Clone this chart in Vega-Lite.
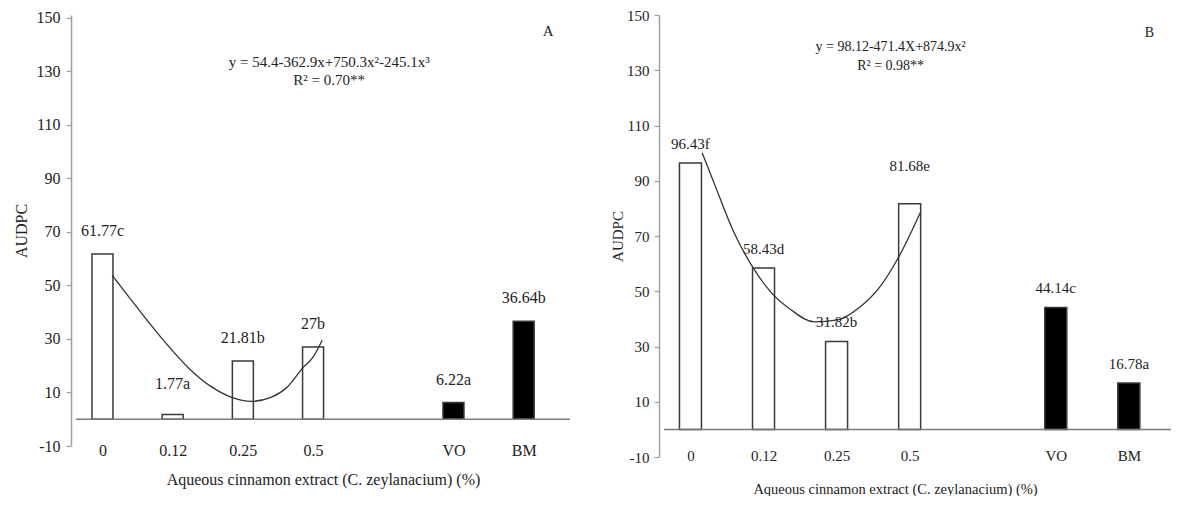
{
  "$schema": "https://vega.github.io/schema/vega-lite/v6.json",
  "padding": {"left": 13, "top": 8, "right": 0, "bottom": 0},
  "background": "white",
  "spacing": 35,
  "datasets": {
    "barsA": [
      {"idx": 0, "value": 61.77, "label": "61.77c", "kind": "extract"},
      {"idx": 1, "value": 1.77, "label": "1.77a", "kind": "extract"},
      {"idx": 2, "value": 21.81, "label": "21.81b", "kind": "extract"},
      {"idx": 3, "value": 27, "label": "27b", "kind": "extract"},
      {"idx": 5, "value": 6.22, "label": "6.22a", "kind": "control"},
      {"idx": 6, "value": 36.64, "label": "36.64b", "kind": "control"}
    ],
    "curveA": [
      {"idx": 0.14, "value": 53.8},
      {"idx": 0.49, "value": 41.9},
      {"idx": 0.87, "value": 29.5},
      {"idx": 1.23, "value": 19.1},
      {"idx": 1.56, "value": 12.0},
      {"idx": 1.84, "value": 8.2},
      {"idx": 2.12, "value": 6.7},
      {"idx": 2.40, "value": 8.2},
      {"idx": 2.63, "value": 12.0},
      {"idx": 2.86, "value": 19.4},
      {"idx": 3.00, "value": 23.2},
      {"idx": 3.13, "value": 29.5}
    ],
    "notesA": [
      {"idx": 3.23, "value": 133.5, "text": "y = 54.4-362.9x+750.3x²-245.1x³"},
      {"idx": 3.23, "value": 126.7, "text": "R² = 0.70**"},
      {"idx": 6.35, "value": 145, "text": "A"}
    ],
    "barsB": [
      {"idx": 0, "value": 96.43, "label": "96.43f", "kind": "extract"},
      {"idx": 1, "value": 58.43, "label": "58.43d", "kind": "extract"},
      {"idx": 2, "value": 31.82, "label": "31.82b", "kind": "extract"},
      {"idx": 3, "value": 81.68, "label": "81.68e", "kind": "extract"},
      {"idx": 5, "value": 44.14, "label": "44.14c", "kind": "control"},
      {"idx": 6, "value": 16.78, "label": "16.78a", "kind": "control"}
    ],
    "curveB": [
      {"idx": 0.16, "value": 100.1},
      {"idx": 0.36, "value": 86.7},
      {"idx": 0.58, "value": 72.2},
      {"idx": 0.85, "value": 58.8},
      {"idx": 1.11, "value": 49.4},
      {"idx": 1.38, "value": 43.2},
      {"idx": 1.70, "value": 38.9},
      {"idx": 2.01, "value": 39.6},
      {"idx": 2.32, "value": 44.3},
      {"idx": 2.59, "value": 51.5},
      {"idx": 2.85, "value": 62.4},
      {"idx": 3.15, "value": 78.7}
    ],
    "notesB": [
      {"idx": 2.74, "value": 138.4, "text": "y = 98.12-471.4X+874.9x²"},
      {"idx": 2.74, "value": 131.5, "text": "R² = 0.98**"},
      {"idx": 6.28, "value": 143.5, "text": "B"}
    ]
  },
  "hconcat": [
    {
      "width": 504,
      "height": 431,
      "encoding": {
        "x": {"field": "idx", "type": "quantitative", "scale": {"domain": [-0.377, 6.66], "nice": false, "zero": false},
          "axis": {"values": [0, 1, 2, 3, 5, 6], "labelExpr": "datum.value == 0 ? '0' : datum.value == 1 ? '0.12' : datum.value == 2 ? '0.25' : datum.value == 3 ? '0.5' : datum.value == 5 ? 'VO' : 'BM'",
            "domain": false, "ticks": false, "tickSize": 0, "labelBaseline": "middle", "labelPadding": 4, "labelFontSize": 16,
            "title": "Aqueous cinnamon extract (C. zeylanacium) (%)", "titleFontSize": 16, "titlePadding": 13}},
        "y": {"field": "value", "type": "quantitative", "scale": {"domain": [-10, 151.12], "nice": false, "zero": false},
          "axis": {"values": [-10, 10, 30, 50, 70, 90, 110, 130, 150], "labelExpr": "'' + datum.value", "tickSize": 5, "labelPadding": 6,
            "labelFontSize": 16, "title": "AUDPC", "titleFontSize": 16, "titlePadding": 7}}
      },
      "layer": [
        {
          "data": {"name": "barsA"},
          "mark": {"type": "bar", "size": 21, "stroke": "#3a3a3a", "strokeWidth": 1.5, "orient": "vertical"},
          "encoding": {
            "y2": {"datum": 0},
            "fill": {"field": "kind", "type": "nominal", "scale": {"domain": ["extract", "control"], "range": ["white", "black"]}, "legend": null}
          }
        },
        {
          "data": {"values": [{"idx": -0.377, "value": 0}, {"idx": 6.66, "value": 0}]},
          "mark": {"type": "line", "color": "#7a7a7a", "strokeWidth": 1.5}
        },
        {
          "data": {"name": "curveA"},
          "mark": {"type": "line", "interpolate": "monotone", "color": "#333333", "strokeWidth": 1.3}
        },
        {
          "data": {"name": "barsA"},
          "transform": [{"filter": "datum.label != '1.77a'"}],
          "mark": {"type": "text", "font": "Liberation Serif", "fontSize": 16, "baseline": "middle", "dy": -23, "color": "#222"},
          "encoding": {"text": {"field": "label"}}
        },
        {
          "data": {"name": "barsA"},
          "transform": [{"filter": "datum.label == '1.77a'"}],
          "mark": {"type": "text", "font": "Liberation Serif", "fontSize": 16, "baseline": "middle", "dy": -31, "color": "#222"},
          "encoding": {"text": {"field": "label"}}
        },
        {
          "data": {"name": "notesA"},
          "mark": {"type": "text", "font": "Liberation Serif", "fontSize": 15, "baseline": "middle", "color": "#222"},
          "encoding": {"text": {"field": "text"}}
        }
      ]
    },
    {
      "width": 517,
      "height": 442,
      "encoding": {
        "x": {"field": "idx", "type": "quantitative", "scale": {"domain": [-0.362, 6.577], "nice": false, "zero": false},
          "axis": {"values": [0, 1, 2, 3, 5, 6], "labelExpr": "datum.value == 0 ? '0' : datum.value == 1 ? '0.12' : datum.value == 2 ? '0.25' : datum.value == 3 ? '0.5' : datum.value == 5 ? 'VO' : 'BM'",
            "domain": false, "ticks": false, "tickSize": 0, "labelBaseline": "middle", "labelPadding": -2, "labelFontSize": 15,
            "title": "Aqueous cinnamon extract (C. zeylanacium) (%)", "titleFontSize": 14.5, "titlePadding": 19, "titleX": 236}},
        "y": {"field": "value", "type": "quantitative", "scale": {"domain": [-10, 150], "nice": false, "zero": false},
          "axis": {"values": [-10, 10, 30, 50, 70, 90, 110, 130, 150], "labelExpr": "'' + datum.value", "tickSize": 5, "labelPadding": 5,
            "labelFontSize": 15, "title": "AUDPC", "titleFontSize": 15, "titlePadding": 1}}
      },
      "layer": [
        {
          "data": {"name": "barsB"},
          "mark": {"type": "bar", "size": 22, "stroke": "#3a3a3a", "strokeWidth": 1.5, "orient": "vertical"},
          "encoding": {
            "y2": {"datum": 0},
            "fill": {"field": "kind", "type": "nominal", "scale": {"domain": ["extract", "control"], "range": ["white", "black"]}, "legend": null}
          }
        },
        {
          "data": {"values": [{"idx": -0.362, "value": 0}, {"idx": 6.577, "value": 0}]},
          "mark": {"type": "line", "color": "#7a7a7a", "strokeWidth": 1.5}
        },
        {
          "data": {"name": "curveB"},
          "mark": {"type": "line", "interpolate": "monotone", "color": "#333333", "strokeWidth": 1.3}
        },
        {
          "data": {"name": "barsB"},
          "transform": [{"filter": "datum.label != '81.68e'"}],
          "mark": {"type": "text", "font": "Liberation Serif", "fontSize": 15, "baseline": "middle", "dy": -19, "color": "#222"},
          "encoding": {"text": {"field": "label"}}
        },
        {
          "data": {"name": "barsB"},
          "transform": [{"filter": "datum.label == '81.68e'"}],
          "mark": {"type": "text", "font": "Liberation Serif", "fontSize": 15, "baseline": "middle", "dy": -38, "color": "#222"},
          "encoding": {"text": {"field": "label"}}
        },
        {
          "data": {"name": "notesB"},
          "mark": {"type": "text", "font": "Liberation Serif", "fontSize": 14, "baseline": "middle", "color": "#222"},
          "encoding": {"text": {"field": "text"}}
        }
      ]
    }
  ],
  "resolve": {"scale": {"x": "independent", "y": "independent", "fill": "independent"}},
  "config": {
    "view": {"stroke": null},
    "axis": {
      "labelFont": "Liberation Serif", "titleFont": "Liberation Serif",
      "labelColor": "#222222", "titleColor": "#222222", "titleFontWeight": "normal",
      "grid": false, "domainColor": "#a0a0a0", "domainWidth": 1.5, "tickColor": "#a0a0a0", "tickWidth": 1.2
    }
  }
}
